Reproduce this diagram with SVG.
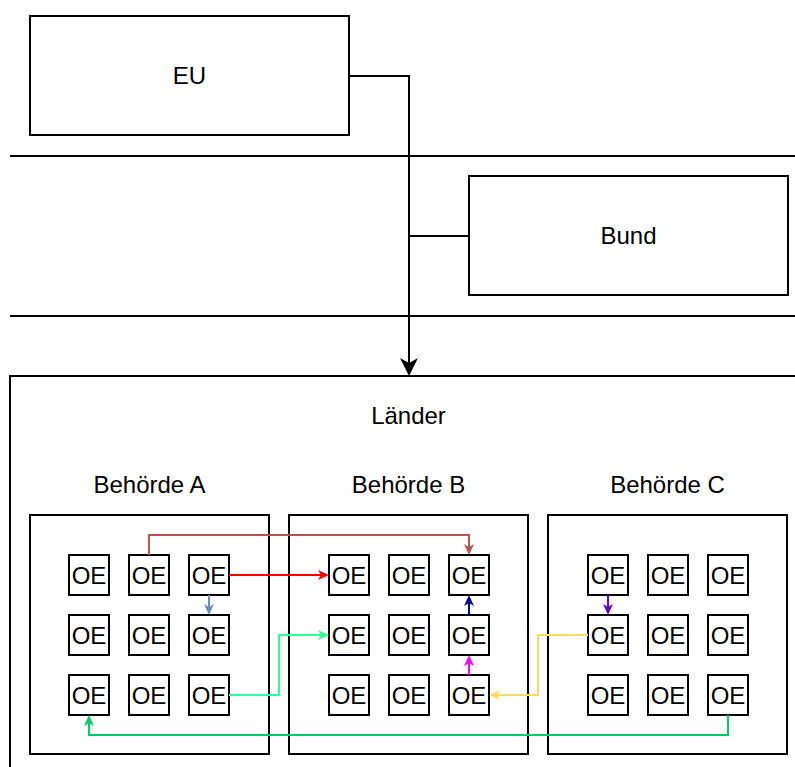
<svg xmlns="http://www.w3.org/2000/svg" width="795" height="767" viewBox="0 0 795 767">
<style>
.box{fill:#fff;stroke:#000;stroke-width:2}
.oe{fill:#fff;stroke:#000;stroke-width:2}
.sep{stroke:#000;stroke-width:2;fill:none}
.lbl{font-family:"Liberation Sans",Arial,sans-serif;font-size:24px;fill:#000;text-anchor:middle}
.oet{font-family:"Liberation Sans",Arial,sans-serif;font-size:24px;fill:#000;text-anchor:middle}
.c{fill:none;stroke-width:2}
</style>
<defs>
<marker id="mBlack" markerUnits="userSpaceOnUse" viewBox="0 0 18 18" markerWidth="18" markerHeight="18" refX="5" refY="9" orient="auto"><path d="M0,0 L18,9 L0,18 L5,9 Z" fill="#000"/></marker>
<marker id="mBrown" markerUnits="userSpaceOnUse" viewBox="0 0 11 10" markerWidth="11" markerHeight="10" refX="3" refY="5" orient="auto"><path d="M0,0 L11,5 L0,10 L3,5 Z" fill="#b85450"/></marker>
<marker id="mRed" markerUnits="userSpaceOnUse" viewBox="0 0 11 10" markerWidth="11" markerHeight="10" refX="3" refY="5" orient="auto"><path d="M0,0 L11,5 L0,10 L3,5 Z" fill="#ff0000"/></marker>
<marker id="mLBlue" markerUnits="userSpaceOnUse" viewBox="0 0 11 10" markerWidth="11" markerHeight="10" refX="3" refY="5" orient="auto"><path d="M0,0 L11,5 L0,10 L3,5 Z" fill="#6c8ebf"/></marker>
<marker id="mMint" markerUnits="userSpaceOnUse" viewBox="0 0 11 10" markerWidth="11" markerHeight="10" refX="3" refY="5" orient="auto"><path d="M0,0 L11,5 L0,10 L3,5 Z" fill="#33ff99"/></marker>
<marker id="mGreen" markerUnits="userSpaceOnUse" viewBox="0 0 11 10" markerWidth="11" markerHeight="10" refX="3" refY="5" orient="auto"><path d="M0,0 L11,5 L0,10 L3,5 Z" fill="#00cc66"/></marker>
<marker id="mNavy" markerUnits="userSpaceOnUse" viewBox="0 0 11 10" markerWidth="11" markerHeight="10" refX="3" refY="5" orient="auto"><path d="M0,0 L11,5 L0,10 L3,5 Z" fill="#000099"/></marker>
<marker id="mMag" markerUnits="userSpaceOnUse" viewBox="0 0 11 10" markerWidth="11" markerHeight="10" refX="3" refY="5" orient="auto"><path d="M0,0 L11,5 L0,10 L3,5 Z" fill="#ff00ff"/></marker>
<marker id="mYellow" markerUnits="userSpaceOnUse" viewBox="0 0 11 10" markerWidth="11" markerHeight="10" refX="3" refY="5" orient="auto"><path d="M0,0 L11,5 L0,10 L3,5 Z" fill="#ffd966"/></marker>
<marker id="mPurple" markerUnits="userSpaceOnUse" viewBox="0 0 11 10" markerWidth="11" markerHeight="10" refX="3" refY="5" orient="auto"><path d="M0,0 L11,5 L0,10 L3,5 Z" fill="#6600cc"/></marker>
</defs>
<rect width="795" height="767" fill="#fff"/>
<g id="separators">
<line class="sep" x1="10" y1="156" x2="795" y2="156"/>
<line class="sep" x1="10" y1="316" x2="795" y2="316"/>
</g>
<g id="eu"><rect class="box" x="30" y="16" width="319" height="119"/><text class="lbl" x="189.5" y="84">EU</text></g>
<g id="bund"><rect class="box" x="469" y="176" width="319" height="119"/><text class="lbl" x="628.5" y="244">Bund</text></g>
<g id="laender"><rect class="box" x="10" y="376" width="800" height="400"/><text class="lbl" x="408.5" y="424">Länder</text></g>
<g id="behoerde-a"><rect class="box" x="30" y="515" width="239" height="239"/><text class="lbl" x="149.5" y="493">Behörde A</text></g>
<g id="behoerde-b"><rect class="box" x="289" y="515" width="239" height="239"/><text class="lbl" x="408.5" y="493">Behörde B</text></g>
<g id="behoerde-c"><rect class="box" x="548" y="515" width="239" height="239"/><text class="lbl" x="667.5" y="493">Behörde C</text></g>
<g id="oe-a11"><rect class="oe" x="69" y="555" width="40" height="40"/><text class="oet" x="89" y="583.5">OE</text></g>
<g id="oe-a12"><rect class="oe" x="129" y="555" width="40" height="40"/><text class="oet" x="149" y="583.5">OE</text></g>
<g id="oe-a13"><rect class="oe" x="189" y="555" width="40" height="40"/><text class="oet" x="209" y="583.5">OE</text></g>
<g id="oe-a21"><rect class="oe" x="69" y="615" width="40" height="40"/><text class="oet" x="89" y="643.5">OE</text></g>
<g id="oe-a22"><rect class="oe" x="129" y="615" width="40" height="40"/><text class="oet" x="149" y="643.5">OE</text></g>
<g id="oe-a23"><rect class="oe" x="189" y="615" width="40" height="40"/><text class="oet" x="209" y="643.5">OE</text></g>
<g id="oe-a31"><rect class="oe" x="69" y="675" width="40" height="40"/><text class="oet" x="89" y="703.5">OE</text></g>
<g id="oe-a32"><rect class="oe" x="129" y="675" width="40" height="40"/><text class="oet" x="149" y="703.5">OE</text></g>
<g id="oe-a33"><rect class="oe" x="189" y="675" width="40" height="40"/><text class="oet" x="209" y="703.5">OE</text></g>
<g id="oe-b11"><rect class="oe" x="329" y="555" width="40" height="40"/><text class="oet" x="349" y="583.5">OE</text></g>
<g id="oe-b12"><rect class="oe" x="389" y="555" width="40" height="40"/><text class="oet" x="409" y="583.5">OE</text></g>
<g id="oe-b13"><rect class="oe" x="449" y="555" width="40" height="40"/><text class="oet" x="469" y="583.5">OE</text></g>
<g id="oe-b21"><rect class="oe" x="329" y="615" width="40" height="40"/><text class="oet" x="349" y="643.5">OE</text></g>
<g id="oe-b22"><rect class="oe" x="389" y="615" width="40" height="40"/><text class="oet" x="409" y="643.5">OE</text></g>
<g id="oe-b23"><rect class="oe" x="449" y="615" width="40" height="40"/><text class="oet" x="469" y="643.5">OE</text></g>
<g id="oe-b31"><rect class="oe" x="329" y="675" width="40" height="40"/><text class="oet" x="349" y="703.5">OE</text></g>
<g id="oe-b32"><rect class="oe" x="389" y="675" width="40" height="40"/><text class="oet" x="409" y="703.5">OE</text></g>
<g id="oe-b33"><rect class="oe" x="449" y="675" width="40" height="40"/><text class="oet" x="469" y="703.5">OE</text></g>
<g id="oe-c11"><rect class="oe" x="588" y="555" width="40" height="40"/><text class="oet" x="608" y="583.5">OE</text></g>
<g id="oe-c12"><rect class="oe" x="648" y="555" width="40" height="40"/><text class="oet" x="668" y="583.5">OE</text></g>
<g id="oe-c13"><rect class="oe" x="708" y="555" width="40" height="40"/><text class="oet" x="728" y="583.5">OE</text></g>
<g id="oe-c21"><rect class="oe" x="588" y="615" width="40" height="40"/><text class="oet" x="608" y="643.5">OE</text></g>
<g id="oe-c22"><rect class="oe" x="648" y="615" width="40" height="40"/><text class="oet" x="668" y="643.5">OE</text></g>
<g id="oe-c23"><rect class="oe" x="708" y="615" width="40" height="40"/><text class="oet" x="728" y="643.5">OE</text></g>
<g id="oe-c31"><rect class="oe" x="588" y="675" width="40" height="40"/><text class="oet" x="608" y="703.5">OE</text></g>
<g id="oe-c32"><rect class="oe" x="648" y="675" width="40" height="40"/><text class="oet" x="668" y="703.5">OE</text></g>
<g id="oe-c33"><rect class="oe" x="708" y="675" width="40" height="40"/><text class="oet" x="728" y="703.5">OE</text></g>
<g id="connectors">
<path class="c" stroke="#000" d="M349,76 H409 V363" marker-end="url(#mBlack)"/>
<path class="c" stroke="#000" d="M469,236 H409"/>
<path class="c" stroke="#b85450" d="M149,555 V535 H469 V547" marker-end="url(#mBrown)"/>
<path class="c" stroke="#ff0000" d="M229,575 H321" marker-end="url(#mRed)"/>
<path class="c" stroke="#6c8ebf" d="M209,595 V607" marker-end="url(#mLBlue)"/>
<path class="c" stroke="#33ff99" d="M229,695 H279 V635 H321" marker-end="url(#mMint)"/>
<path class="c" stroke="#00cc66" d="M728,715 V735 H89 V723" marker-end="url(#mGreen)"/>
<path class="c" stroke="#000099" d="M469,615 V603" marker-end="url(#mNavy)"/>
<path class="c" stroke="#ff00ff" d="M469,675 V663" marker-end="url(#mMag)"/>
<path class="c" stroke="#ffd966" d="M588,635 H538 V695 H497" marker-end="url(#mYellow)"/>
<path class="c" stroke="#6600cc" d="M608,595 V607" marker-end="url(#mPurple)"/>
</g>
</svg>
